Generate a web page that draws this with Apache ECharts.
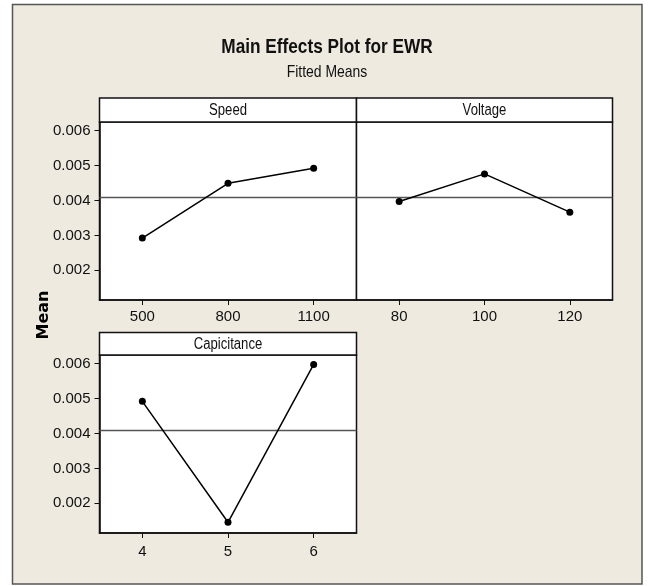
<!DOCTYPE html>
<html>
<head>
<meta charset="utf-8">
<script src="https://cdn.jsdelivr.net/npm/echarts@6/dist/echarts.min.js"></script>
<style>
html, body { margin: 0; padding: 0; background: #fff; }
#chart { width: 648px; height: 586px; }
</style>
</head>
<body>
<div id="chart"></div>
<script>
// Fitted means of EWR for each factor level
const speedLevels = ['500', '800', '1100'];
const speedMeans = [0.002923, 0.004494, 0.004923];
const voltageLevels = ['80', '100', '120'];
const voltageMeans = [0.003971, 0.004763, 0.003666];
const capLevels = ['4', '5', '6'];
const capMeans = [0.004923, 0.001457, 0.005980];
const grandMean = 0.00409;
const yTicks = [0.002, 0.003, 0.004, 0.005, 0.006];
const panelTitles = ['Speed', 'Voltage', 'Capicitance'];
const chartTitle = 'Main Effects Plot for EWR';
const chartSubtitle = 'Fitted Means';
const yName = 'Mean';

const yMin = 0.00115, yMax = 0.00625;
const FONT = '"Liberation Sans", Arial, sans-serif';
const NARROW = 0.82;           // horizontal squeeze for the narrow face
const INK = '#111';

const panels = [
  { levels: speedLevels, means: speedMeans, grid: { left: 99.5, top: 122, width: 257, height: 178 }, labels: true, labelMargin: 9 },
  { levels: voltageLevels, means: voltageMeans, grid: { left: 356.5, top: 122, width: 256, height: 178 }, labels: false, labelMargin: 9 },
  { levels: capLevels, means: capMeans, grid: { left: 99.5, top: 355, width: 257, height: 178 }, labels: true, labelMargin: 11 }
];

const grids = panels.map(p => Object.assign({
  show: true,
  backgroundColor: '#fff',
  borderColor: INK,
  borderWidth: 1.5,
  containLabel: false
}, p.grid));

// Category axes for the factor levels
const xAxes = panels.map((p, i) => ({
  type: 'category',
  gridIndex: i,
  data: p.levels,
  boundaryGap: true,
  axisLine: { show: true, lineStyle: { color: INK, width: 1.5 } },
  axisTick: { show: true, alignWithLabel: true, length: 5, lineStyle: { color: INK, width: 1 } },
  axisLabel: { color: '#111', fontFamily: FONT, fontSize: 15, margin: p.labelMargin },
  splitLine: { show: false }
}));
// Hidden 0..1 axes so the grand-mean reference spans each panel edge to edge
panels.forEach((p, i) => xAxes.push({
  type: 'value', gridIndex: i, min: 0, max: 1, show: false
}));

const yAxes = panels.map((p, i) => ({
  type: 'value',
  gridIndex: i,
  min: yMin,
  max: yMax,
  axisLine: { show: p.labels, lineStyle: { color: INK, width: 1.5 } },
  axisTick: { show: p.labels, length: 5, customValues: yTicks, lineStyle: { color: INK, width: 1 } },
  axisLabel: {
    show: p.labels,
    customValues: yTicks,
    color: '#111',
    fontFamily: FONT,
    fontSize: 15,
    margin: 9,
    formatter: v => v.toFixed(3)
  },
  splitLine: { show: false }
}));

const series = [];
panels.forEach((p, i) => {
  series.push({
    type: 'line',
    xAxisIndex: panels.length + i,
    yAxisIndex: i,
    data: [[0, grandMean], [1, grandMean]],
    symbol: 'none',
    lineStyle: { color: '#555', width: 1.5 },
    silent: true,
    z: 3
  });
  series.push({
    type: 'line',
    xAxisIndex: i,
    yAxisIndex: i,
    data: p.means,
    symbol: 'circle',
    symbolSize: 7,
    itemStyle: { color: '#000' },
    lineStyle: { color: '#000', width: 1.5 },
    z: 5
  });
});

function squeezedText(x, y, text, font, extra) {
  return Object.assign({
    type: 'text', x: x, y: y, scaleX: NARROW, scaleY: 1,
    style: { text: text, fill: '#111', font: font, align: 'center', verticalAlign: 'middle' }
  }, extra || {});
}

// Panel header strips
function header(x, y, w, h, text) {
  return [
    { type: 'rect', shape: { x: x, y: y, width: w, height: h }, style: { fill: '#fff', stroke: INK, lineWidth: 1.5 }, z: 10 },
    squeezedText(x + w / 2, y + h / 2 + 0.5, text, '16px ' + FONT, { z: 11 })
  ];
}

const graphic = [
  { type: 'rect', shape: { x: 12.5, y: 4.5, width: 629.5, height: 579.5 }, style: { fill: '#EEEAE0', stroke: '#555', lineWidth: 1.5 }, z: -10 },
  squeezedText(327, 47, chartTitle, 'bold 21px ' + FONT),
  squeezedText(327, 72, chartSubtitle, '17px ' + FONT),
  { type: 'text', x: 43.5, y: 315, rotation: Math.PI / 2, style: { text: yName, fill: '#000', font: 'bold 16px "DejaVu Sans", sans-serif', align: 'center', verticalAlign: 'middle' } }
]
  .concat(header(99.5, 98, 257, 24, panelTitles[0]))
  .concat(header(356.5, 98, 256, 24, panelTitles[1]))
  .concat(header(99.5, 332.5, 257, 22.5, panelTitles[2]));

const chart = echarts.init(document.getElementById('chart'), null, { renderer: 'canvas' });
chart.setOption({
  backgroundColor: '#fff',
  animation: false,
  grid: grids,
  xAxis: xAxes,
  yAxis: yAxes,
  series: series,
  graphic: graphic
});
</script>
</body>
</html>
